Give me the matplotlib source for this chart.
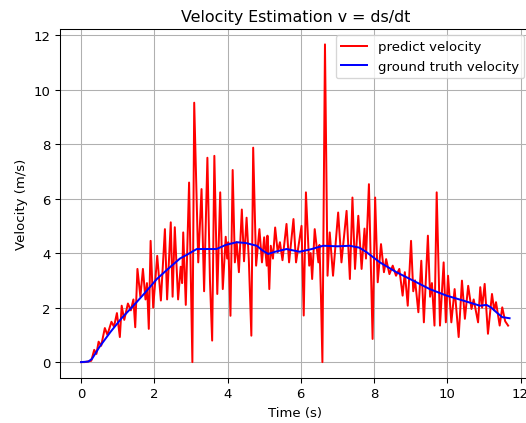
import matplotlib
matplotlib.use("Agg")
import matplotlib.pyplot as plt

red_t = [0.00, 0.10, 0.20, 0.28, 0.36, 0.42, 0.48, 0.55, 0.65, 0.72, 0.83, 0.90, 0.98, 1.06, 1.11, 1.18,
         1.28, 1.36, 1.43, 1.48, 1.54, 1.62, 1.69, 1.76, 1.80, 1.85, 1.90, 1.97, 2.08, 2.18, 2.29, 2.35,
         2.45, 2.50, 2.56, 2.65, 2.72, 2.76, 2.79, 2.86, 2.95, 3.04, 3.09, 3.20, 3.29, 3.36, 3.45, 3.52,
         3.58, 3.64, 3.72, 3.80, 3.87, 3.95, 3.99, 4.02, 4.08, 4.14, 4.20, 4.25, 4.31, 4.39, 4.45, 4.52,
         4.58, 4.65, 4.70, 4.78, 4.87, 4.94, 5.00, 5.07, 5.09, 5.14, 5.18, 5.24, 5.30, 5.37, 5.43, 5.50,
         5.61, 5.68, 5.80, 5.87, 5.93, 6.02, 6.08, 6.14, 6.23, 6.27, 6.31, 6.38, 6.48, 6.51, 6.55, 6.59,
         6.66, 6.73, 6.79, 6.88, 7.02, 7.11, 7.25, 7.34, 7.41, 7.48, 7.57, 7.66, 7.74, 7.78, 7.86, 7.96,
         8.03, 8.10, 8.19, 8.27, 8.33, 8.42, 8.51, 8.60, 8.69, 8.78, 8.84, 8.92, 9.01, 9.07, 9.12, 9.21,
         9.29, 9.36, 9.47, 9.53, 9.58, 9.65, 9.71, 9.80, 9.90, 9.96, 10.02, 10.11, 10.20, 10.31, 10.40,
         10.48, 10.57, 10.66, 10.72, 10.84, 10.90, 10.95, 11.02, 11.11, 11.22, 11.28, 11.33, 11.43, 11.50,
         11.58, 11.66]
red_v = [0.00, 0.00, 0.03, 0.05, 0.45, 0.30, 0.75, 0.60, 1.25, 1.00, 1.48, 1.30, 1.80, 0.92, 2.07, 1.55,
         2.15, 1.90, 2.30, 1.28, 3.42, 2.40, 3.42, 2.30, 2.90, 1.22, 4.45, 2.00, 3.90, 2.26, 4.88, 2.30,
         5.13, 2.40, 4.95, 2.30, 3.50, 2.90, 4.76, 2.10, 6.59, 0.00, 9.52, 3.66, 6.35, 2.60, 7.50, 3.00,
         0.79, 7.57, 2.50, 6.23, 2.68, 4.60, 3.80, 4.40, 1.70, 7.05, 3.66, 4.40, 3.30, 5.60, 3.70, 5.30,
         3.80, 0.97, 7.87, 3.54, 4.88, 3.66, 4.58, 3.54, 4.64, 2.68, 4.27, 3.80, 4.94, 4.03, 4.40, 3.74,
         5.07, 3.66, 5.25, 3.66, 4.20, 5.00, 1.71, 6.23, 3.54, 4.00, 3.05, 4.88, 3.66, 4.30, 2.44, 0.00,
         11.66, 3.17, 4.76, 3.17, 5.49, 3.66, 5.55, 3.05, 6.04, 3.42, 5.37, 3.42, 4.90, 3.80, 6.53, 0.85,
         6.04, 2.93, 4.33, 3.30, 3.78, 3.23, 3.54, 3.17, 3.42, 2.44, 3.30, 2.07, 4.45, 2.60, 3.00, 1.83,
         3.72, 1.46, 4.64, 2.40, 2.90, 1.34, 6.23, 1.34, 3.66, 1.46, 3.17, 1.46, 2.68, 0.92, 2.99,
         1.59, 2.80, 1.95, 2.30, 1.46, 2.75, 2.00, 2.87, 1.04, 2.50, 1.90, 2.20, 1.34, 2.01,
         1.50, 1.34]

blue_t = [0.0, 0.2, 0.3, 0.5, 0.8, 1.1, 1.43, 1.75, 2.07, 2.4, 2.7, 2.93, 3.16, 3.4, 3.7, 3.95, 4.25,
          4.5, 4.8, 4.95, 5.11, 5.3, 5.61, 5.97, 6.3, 6.61, 7.0, 7.34, 7.6, 7.8, 8.16, 8.61, 9.07, 9.52,
          9.98, 10.43, 10.89, 11.07, 11.2, 11.34, 11.5, 11.7]
blue_v = [0.0, 0.02, 0.12, 0.55, 1.1, 1.6, 2.07, 2.55, 3.05, 3.45, 3.8, 3.97, 4.15, 4.15, 4.15, 4.3, 4.4,
          4.37, 4.27, 4.1, 3.97, 4.05, 4.15, 4.05, 4.15, 4.27, 4.25, 4.27, 4.2, 4.03, 3.66, 3.3, 2.99, 2.68,
          2.44, 2.26, 2.07, 2.1, 2.0, 1.83, 1.65, 1.61]

dpi = 95
fig = plt.figure(figsize=(526 / dpi, 424 / dpi), dpi=dpi)
ax = fig.add_axes([59.6 / 526, 45 / 424, (531 - 59.6) / 526, (379 - 29.5) / 424])
ax.plot(red_t, red_v, color="red", label="predict velocity")
ax.plot(blue_t, blue_v, color="blue", label="ground truth velocity")
ax.set_title("Velocity Estimation v = ds/dt")
ax.set_xlabel("Time (s)")
ax.set_ylabel("Velocity (m/s)")
ax.grid(True)
ax.legend(loc="upper right")
fig.savefig("out.png", dpi=dpi)
